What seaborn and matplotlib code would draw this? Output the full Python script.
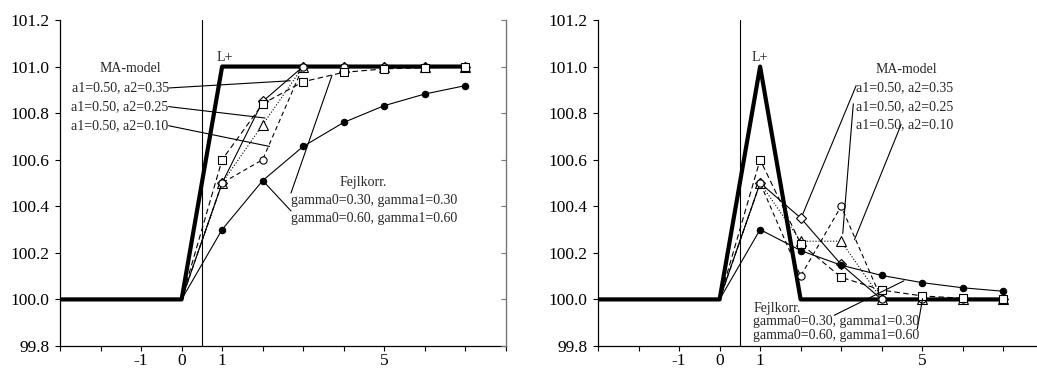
import matplotlib
matplotlib.use("Agg")
import matplotlib.pyplot as plt
import numpy as np
import pandas as pd
import seaborn as sns

# ---------------- data ----------------
lead_x = [-3, -2, -1, 0]
x = [0, 1, 2, 3, 4, 5, 6, 7]

# Left panel: permanent level shift (L+)
lplus_left = [100.0, 101.0, 101.0, 101.0, 101.0, 101.0, 101.0, 101.0]
ma035_left = [100.0, 100.5, 100.85, 101.0, 101.0, 101.0, 101.0, 101.0]
ma025_left = [100.0, 100.5, 100.75, 101.0, 101.0, 101.0, 101.0, 101.0]
ma010_left = [100.0, 100.5, 100.60, 101.0, 101.0, 101.0, 101.0, 101.0]
ec030_left = [100.0, 100.6, 100.84, 100.935, 100.975, 100.99, 100.995, 100.998]
ec060_left = [100.0, 100.3, 100.51, 100.657, 100.76, 100.832, 100.882, 100.918]

# Right panel: temporary pulse (L+)
lplus_right = [100.0, 101.0, 100.0, 100.0, 100.0, 100.0, 100.0, 100.0]
ma035_right = [100.0, 100.5, 100.35, 100.15, 100.0, 100.0, 100.0, 100.0]
ma025_right = [100.0, 100.5, 100.25, 100.25, 100.0, 100.0, 100.0, 100.0]
ma010_right = [100.0, 100.5, 100.10, 100.40, 100.0, 100.0, 100.0, 100.0]
ec030_right = [100.0, 100.6, 100.24, 100.095, 100.04, 100.015, 100.005, 100.002]
ec060_right = [100.0, 100.3, 100.21, 100.147, 100.103, 100.072, 100.05, 100.035]
lead_level = [100.0, 100.0, 100.0, 100.0]

x_ticks = list(range(-3, 9))
x_tick_labels = ["", "", "-1", "0", "1", "", "", "", "5", "", "", ""]
y_ticks = [99.8, 100.0, 100.2, 100.4, 100.6, 100.8, 101.0, 101.2]

ma_labels = ["a1=0.50, a2=0.35", "a1=0.50, a2=0.25", "a1=0.50, a2=0.10"]
ec_labels = ["gamma0=0.30, gamma1=0.30", "gamma0=0.60, gamma1=0.60"]

# ---------------- style ----------------
sns.set_style("ticks")
plt.rcParams["font.family"] = ["Liberation Serif", "DejaVu Serif"]

fig = plt.figure(figsize=(10.37, 3.68), dpi=100)
ax_l = fig.add_axes([0.0579, 0.0598, 0.4298, 0.8859])
ax_r = fig.add_axes([0.5767, 0.0598, 0.4298, 0.8859])

TICK_FS = 12.5
ANN_FS = 10


def draw_panel(ax, lplus, ma035, ma025, ma010, ec030, ec060):
    sx = lead_x + x[1:]
    sns.lineplot(x=sx, y=lead_level + lplus[1:], ax=ax, color="black",
                 linewidth=3.0, sort=False, estimator=None)
    mk = list(range(1, len(x)))
    common = dict(ax=ax, color="black", linewidth=0.8, sort=False,
                  estimator=None, markevery=mk, markeredgecolor="black",
                  markeredgewidth=0.8)
    sns.lineplot(x=x, y=ma035, marker="D", markersize=5.2,
                 markerfacecolor="white", linestyle="-", **common)
    sns.lineplot(x=x, y=ma025, marker="^", markersize=6.5,
                 markerfacecolor="white", linestyle=":", **common)
    sns.lineplot(x=x, y=ma010, marker="o", markersize=5.2,
                 markerfacecolor="white", dashes=(4, 3), **common)
    sns.lineplot(x=x, y=ec030, marker="s", markersize=5.3,
                 markerfacecolor="white", dashes=(5, 3), **common)
    sns.lineplot(x=x, y=ec060, marker="o", markersize=4.6,
                 markerfacecolor="black", linestyle="-", **common)

    ax.axvline(0.5, color="black", linewidth=0.8)
    ax.set_xlim(-3, 8)
    ax.set_ylim(99.8, 101.2)
    ax.set_xticks(x_ticks)
    ax.set_xticklabels(x_tick_labels)
    ax.set_yticks(y_ticks)
    ax.set_yticklabels([f"{v:.1f}" for v in y_ticks])
    ax.tick_params(axis="both", direction="out", length=3.5, width=0.8,
                   labelsize=TICK_FS, colors="black")
    ax.tick_params(axis="x", pad=1.5)
    ax.tick_params(axis="y", pad=4)
    ax.spines["top"].set_visible(False)
    ax.spines["right"].set_visible(False)
    for side in ["left", "bottom"]:
        ax.spines[side].set_color("black")
        ax.spines[side].set_linewidth(0.9)
    ax.set_xlabel("")
    ax.set_ylabel("")

    # right inner axis
    tw = ax.twinx()
    tw.set_ylim(99.8, 101.2)
    tw.set_yticks(y_ticks)
    tw.tick_params(axis="y", direction="in", length=3.5, width=0.8,
                   labelright=False, color="#777777")
    for side in ["top", "left", "bottom"]:
        tw.spines[side].set_visible(False)
    tw.spines["right"].set_color("#777777")
    tw.spines["right"].set_linewidth(1.0)
    return ax


draw_panel(ax_l, lplus_left, ma035_left, ma025_left, ma010_left,
           ec030_left, ec060_left)
draw_panel(ax_r, lplus_right, ma035_right, ma025_right, ma010_right,
           ec030_right, ec060_right)

lk = dict(color="black", linewidth=0.8)

# ---- left panel annotations ----
ax = ax_l
ax.text(1.07, 101.012, "L+", ha="center", va="bottom", fontsize=ANN_FS)
ax.text(-1.27, 100.99, "MA-model", ha="center", va="center", fontsize=ANN_FS)
for lab, ty, tgt in zip(ma_labels, [100.908, 100.828, 100.746],
                        [(2.68, 100.939), (2.06, 100.779), (2.17, 100.657)]):
    ax.text(-0.32, ty, lab, ha="right", va="center", fontsize=ANN_FS)
    ax.plot([-0.32, tgt[0]], [ty, tgt[1]], **lk)
ax.text(4.49, 100.504, "Fejlkorr.", ha="center", va="center", fontsize=ANN_FS)
for lab, ty in zip(ec_labels, [100.425, 100.347]):
    ax.text(2.70, ty, lab, ha="left", va="center", fontsize=ANN_FS)
ax.plot([2.70, 3.71], [100.457, 100.961], **lk)
ax.plot([2.70, 2.02], [100.38, 100.507], **lk)

# ---- right panel annotations ----
ax = ax_r
ax.text(1.0, 101.012, "L+", ha="center", va="bottom", fontsize=ANN_FS)
ax.text(4.60, 100.989, "MA-model", ha="center", va="center", fontsize=ANN_FS)
for lab, ty in zip(ma_labels, [100.908, 100.828, 100.750]):
    ax.text(3.37, ty, lab, ha="left", va="center", fontsize=ANN_FS)
ax.plot([3.37, 2.05], [100.918, 100.365], **lk)
ax.plot([3.30, 3.04], [100.84, 100.283], **lk)
ax.plot([4.48, 3.33], [100.751, 100.257], **lk)
ax.text(0.83, 99.961, "Fejlkorr.", ha="left", va="center", fontsize=ANN_FS)
for lab, ty in zip(ec_labels, [99.904, 99.843]):
    ax.text(0.83, ty, lab, ha="left", va="center", fontsize=ANN_FS)
ax.plot([2.83, 4.55], [99.932, 100.08], **lk)
ax.plot([4.88, 5.01], [99.874, 100.004], **lk)

fig.savefig("out.png", dpi=100)
